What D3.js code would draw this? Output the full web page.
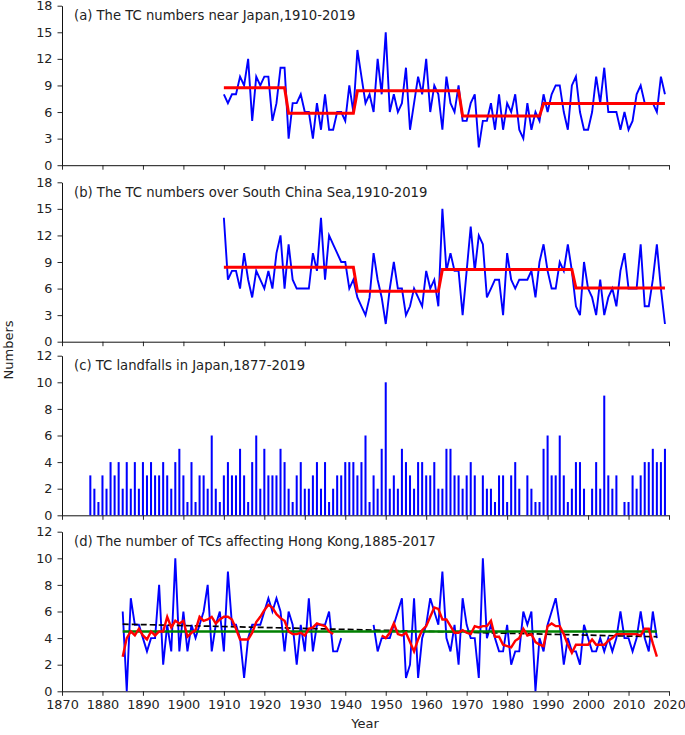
<!DOCTYPE html>
<html>
<head>
<meta charset="utf-8">
<script src="https://cdn.jsdelivr.net/npm/d3@7"></script>
<style>
  body { margin: 0; background: #fff; }
  text { font-family: "DejaVu Sans", sans-serif; fill: #222; }
</style>
</head>
<body>
<svg id="chart" width="685" height="735"></svg>
<script>
// (a) TC numbers near Japan, 1910-2019
var japanStart = 1910;
var japanCounts = [8,7,8,8,10,9,12,5,10,9, 10,10,5,7,11,11,3,7,7,8, 6,6,3,7,4,8,4,4,6,6,
                   5,9,6,13,10,7,8,6,12,8, 15,6,8,6,7,11,4,7,10,8, 12,6,9,8,4,10,7,6,9,5,
                   5,7,8,2,5,5,7,4,8,4, 7,6,8,4,3,7,4,6,5,8, 6,8,9,9,6,4,9,10,6,4,
                   4,6,10,7,11,6,6,6,4,6, 4,5,8,9,7,7,7,6,10,8];
// regime means (first year, last year, level)
var japanSteps = [[1910,1925,8.75],[1926,1942,5.85],[1943,1968,8.4],[1969,1988,5.55],[1989,2019,6.97]];

// (b) TC numbers over South China Sea, 1910-2019
var scsStart = 1910;
var scsCounts = [14,7,8,8,6,10,7,5,8,7, 6,8,6,10,12,6,11,7,6,6, 6,6,10,8,14,7,12,11,10,9,
                 9,6,7,5,4,3,5,10,7,5, 2,6,9,6,6,3,4,6,5,4, 8,6,7,4,15,8,10,8,8,3,
                 8,13,8,12,11,5,6,7,7,3, 10,7,6,7,7,7,8,5,9,11, 8,6,6,9,8,11,8,4,3,9,
                 6,5,3,7,3,5,6,4,8,10, 6,6,6,11,4,4,7,11,6,2];
var scsSteps = [[1910,1942,8.4],[1943,1963,5.7],[1964,1996,8.15],[1997,2019,6.05]];

// (c) TC landfalls in Japan, 1877-2019
var landStart = 1877;
var landCounts = [3,2,1, 3,2,4,3,4,2,4,2,4,2, 4,3,4,3,3,4,3,2,4,5, 3,1,4,1,3,3,2,6,2,1,
                  3,4,3,3,5,3,1,4,6,2, 5,3,3,3,5,4,2,1,3,4, 2,2,3,4,2,4,1,2,3,3,
                  4,4,4,3,4,6,1,3,2,5, 10,2,3,2,5,4,3,2,4,4, 3,3,4,2,2,5,5,3,3,2,
                  3,4,3,0,3,2,2,1,3,3, 1,3,4,2,0,3,2,1,1,5, 6,3,3,6,3,1,2,4,4,2,
                  0,2,4,2,9,3,2,3,0,1, 1,3,2,3,4,4,5,4,4,5];

// (d) TCs affecting Hong Kong, 1885-2017 (no record 1940-1946)
var hkStart = 1885;
var hkCounts = [6,0,7,5,5, 4,3,4,4,8,2,5,3,10,3, 6,3,5,4,5,6,8,3,5,6, 3,9,5,5,4,1,4,5,5,5,
                6,7,6,7,6,3,6,5,2,5, 3,7,3,5,5,5,6,3,3,4,
                null,null,null,null,null,null,null,5,3,4,
                4,4,5,6,7,1,2,7,1,4, 5,7,6,5,9,4,3,5,2,7, 5,4,4,1,10,4,5,4,3,3,
                5,2,3,3,6,5,6,0,4,3, 5,6,7,5,2,4,3,3,2,5, 4,3,3,4,3,4,3,4,6,4,
                4,3,4,6,4,3,6,4];
var hkSmooth = [2.6,4.0,4.5,4.2,4.7, 4.2,3.9,4.5,4.2,4.5,4.5,5.6,4.8,5.3,5.1,
                5.3,4.1,4.4,4.6,5.6,5.3,5.4,5.6,5.1,5.4, 5.6,5.6,5.4,4.7,3.9,3.9,3.9,4.4,5.2,5.6,
                6.1,6.5,6.3,5.8,5.5,5.3,4.5,4.3,4.3,4.4, 4.2,4.7,4.8,5.1,5.0,4.9,4.5,4.3,null,null,
                null,null,null,null,null,null,null,null,null,4.2,
                4.0,4.4,5.1,4.3,4.2,4.4,3.7,3.0,3.9,4.6, 4.9,5.6,6.3,6.2,5.4,5.4,4.9,4.4,4.4,4.6,
                4.4,4.3,4.9,4.8,4.9,4.9,5.3,4.1,4.1,3.5, 3.4,3.3,3.8,4.0,4.7,4.2,4.3,3.7,3.5,3.4,
                4.9,5.1,4.9,4.9,4.3,3.5,2.9,3.5,3.5,3.5, 3.5,3.9,3.5,3.5,3.5,3.8,4.0,4.3,4.3,4.3,
                4.3,4.3,4.3,4.2,4.7,4.7,3.6,2.6];
var hkMean = 4.5;
var hkTrend = [[1885, 5.05], [2017, 4.1]];

var titles = ["(a) The TC numbers near Japan,1910-2019",
              "(b) The TC numbers over South China Sea,1910-2019",
              "(c) TC landfalls in Japan,1877-2019",
              "(d) The number of TCs affecting Hong Kong,1885-2017"];
var xTickYears = [1870,1880,1890,1900,1910,1920,1930,1940,1950,1960,1970,1980,1990,2000,2010,2020];

var svg = d3.select("#chart");
var x = d3.scaleLinear().domain([1870, 2020]).range([62, 669]);

function toPoints(start, values) {
    return values.map(function(v, i) { return { year: start + i, value: v }; });
}
function stepPoints(steps) {
    var pts = [];
    steps.forEach(function(s) {
        for (var yr = s[0]; yr <= s[1]; yr++) pts.push({ year: yr, value: s[2] });
    });
    return pts;
}

var panels = [
    { top: 5.7,   bottom: 165.2, max: 18, step: 3 },
    { top: 182.3, bottom: 341.7, max: 18, step: 3 },
    { top: 355.7, bottom: 515.3, max: 12, step: 2 },
    { top: 531.7, bottom: 691.3, max: 12, step: 2, labels: true }
];

function drawAxes(p, i) {
    var y = d3.scaleLinear().domain([0, p.max]).range([p.bottom, p.top]);
    var g = svg.append("g");

    var xa = g.append("g")
        .attr("transform", "translate(0," + p.bottom + ")")
        .call(d3.axisBottom(x).tickValues(xTickYears).tickSize(4.5).tickSizeOuter(0).tickPadding(4)
            .tickFormat(p.labels ? d3.format("d") : ""));
    var ya = g.append("g")
        .attr("transform", "translate(62,0)")
        .call(d3.axisLeft(y).tickValues(d3.range(0, p.max + 1, p.step)).tickSize(4.5).tickSizeOuter(0).tickPadding(5));

    [xa, ya].forEach(function(a) {
        a.attr("font-family", null).attr("font-size", null);
        a.select(".domain").attr("stroke", "#111").attr("stroke-width", 1);
        a.selectAll(".tick line").attr("stroke", "#111").attr("stroke-width", 0.9);
        a.selectAll(".tick text").style("font-size", "12.8px").attr("fill", "#222");
    });

    g.append("text")
        .attr("x", 74)
        .attr("y", p.top + 14.5)
        .style("font-size", "13.2px")
        .text(titles[i]);
    return y;
}

var line = function(y) {
    return d3.line()
        .defined(function(d) { return d.value !== null; })
        .x(function(d) { return x(d.year); })
        .y(function(d) { return y(d.value); });
};

// (a)
var yA = drawAxes(panels[0], 0);
svg.append("path").datum(toPoints(japanStart, japanCounts))
    .attr("fill", "none").attr("stroke", "#0000ff").attr("stroke-width", 1.9)
    .attr("d", line(yA));
svg.append("path").datum(stepPoints(japanSteps))
    .attr("fill", "none").attr("stroke", "#ff0000").attr("stroke-width", 3)
    .attr("d", line(yA));

// (b)
var yB = drawAxes(panels[1], 1);
svg.append("path").datum(toPoints(scsStart, scsCounts))
    .attr("fill", "none").attr("stroke", "#0000ff").attr("stroke-width", 1.9)
    .attr("d", line(yB));
svg.append("path").datum(stepPoints(scsSteps))
    .attr("fill", "none").attr("stroke", "#ff0000").attr("stroke-width", 3)
    .attr("d", line(yB));

// (c)
var yC = drawAxes(panels[2], 2);
var barW = x(1870.5) - x(1870);
svg.append("g").selectAll("rect")
    .data(toPoints(landStart, landCounts).filter(function(d) { return d.value > 0; }))
    .enter().append("rect")
    .attr("x", function(d) { return x(d.year) - barW / 2; })
    .attr("y", function(d) { return yC(d.value); })
    .attr("width", barW)
    .attr("height", function(d) { return yC(0) - yC(d.value); })
    .attr("fill", "#0000ff");

// (d)
var yD = drawAxes(panels[3], 3);
svg.append("path").datum(toPoints(hkStart, hkCounts))
    .attr("fill", "none").attr("stroke", "#0000ff").attr("stroke-width", 1.9)
    .attr("d", line(yD));
svg.append("path").datum(hkTrend.map(function(d) { return { year: d[0], value: d[1] }; }))
    .attr("fill", "none").attr("stroke", "#000").attr("stroke-width", 1.7)
    .attr("stroke-dasharray", "6,3")
    .attr("d", line(yD));
svg.append("path").datum([{ year: hkStart, value: hkMean }, { year: hkStart + hkCounts.length - 1, value: hkMean }])
    .attr("fill", "none").attr("stroke", "#008000").attr("stroke-width", 2.4)
    .attr("d", line(yD));
svg.append("path").datum(toPoints(hkStart, hkSmooth))
    .attr("fill", "none").attr("stroke", "#ff0000").attr("stroke-width", 2.4)
    .attr("d", line(yD));

// shared axis labels
svg.append("text")
    .attr("transform", "translate(13,350) rotate(-90)")
    .attr("text-anchor", "middle")
    .style("font-size", "13px")
    .text("Numbers");
svg.append("text")
    .attr("x", 365)
    .attr("y", 728)
    .attr("text-anchor", "middle")
    .style("font-size", "13px")
    .text("Year");
</script>
</body>
</html>
